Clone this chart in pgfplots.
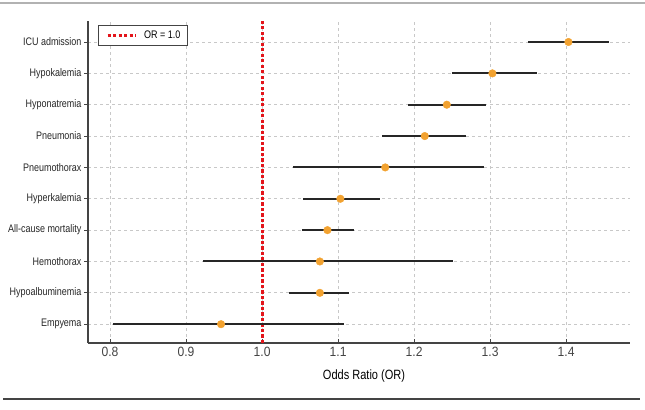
\documentclass[border=0pt]{standalone}
\usepackage{pgfplots}
\pgfplotsset{compat=1.18}
\usepackage{pgfplotstable}
\usepackage{fontspec}
\setmainfont[FakeStretch=0.82]{Liberation Sans}
\newfontfamily\tickfont[FakeStretch=0.9]{Liberation Sans}

\definecolor{ptorange}{HTML}{F2A230}
\definecolor{refred}{HTML}{E3151B}
\definecolor{gridgray}{HTML}{C8C8C8}
\definecolor{axgray}{HTML}{444444}

\pgfplotsset{longline/.style={legend image code/.code={%
    \path (-3bp,0bp) (33bp,0bp);
    \draw[##1] (0bp,0bp) -- (28bp,0bp);}}}

% odds ratios with 95% CI, index 0 = bottom row
\pgfplotstableread{
idx or    lo    hi
0   0.946 0.804 1.108
1   1.076 1.036 1.114
2   1.076 0.922 1.251
3   1.086 1.053 1.121
4   1.103 1.054 1.155
5   1.162 1.041 1.292
6   1.214 1.158 1.268
7   1.243 1.192 1.295
8   1.303 1.250 1.361
9   1.403 1.350 1.456
}\ortable

\begin{document}
\begin{tikzpicture}[x=1bp,y=1bp]
\path[use as bounding box] (0,0) rectangle (645,409);
\draw[gray!60, line width=1.2bp] (0,406) -- (645,406);
\draw[axgray, line width=1.2bp] (3,10) -- (640,10);
\begin{axis}[
    at={(88bp,66bp)}, anchor=south west,
    scale only axis, width=542bp, height=322bp,
    xmin=0.771, xmax=1.484,
    ymin=-0.6, ymax=9.67,
    axis x line*=bottom, axis y line*=left,
    axis line style={axgray, line width=1.1bp, -},
    xtick={0.8,0.9,1.0,1.1,1.2,1.3,1.4},
    xticklabels={0.8,0.9,1.0,1.1,1.2,1.3,1.4},
    ytick={0,...,9},
    yticklabels={Empyema,Hypoalbuminemia,Hemothorax,All-cause mortality,Hyperkalemia,Pneumothorax,Pneumonia,Hyponatremia,Hypokalemia,ICU admission},
    tick align=inside,
    major tick length=4bp,
    tick style={axgray, line width=0.9bp},
    y tick style={xshift=-4bp},
    grid=major,
    major grid style={gridgray, dash pattern=on 3bp off 3bp, line width=0.8bp},
    xticklabel style={font=\tickfont\fontsize{13.5}{13.5}\selectfont, text=axgray, yshift=-1bp},
    yticklabel style={font=\fontsize{11}{11}\selectfont, text=black!85, xshift=-3bp},
    /pgf/number format/assume math mode=true,
    xlabel={Odds Ratio (OR)},
    xlabel style={font=\fontsize{13.5}{13.5}\selectfont, yshift=-6bp, xshift=5bp},
    legend style={at={(0.018,0.988)}, anchor=north west, draw=axgray,
        line width=0.9bp, fill=white, font=\fontsize{11}{11}\selectfont,
        inner xsep=5bp, inner ysep=3.5bp},
    legend cell align=left,
]
\addplot[refred, line width=3bp, dash pattern=on 3.2bp off 2.3bp, longline]
    coordinates {(1.0,-0.6) (1.0,9.67)};
\addlegendentry{OR = 1.0}
\addplot[draw=none, mark=none, forget plot,
    error bars/.cd, x dir=both, x explicit, error mark=none,
    error bar style={black!85, line width=2bp, solid}]
    table[x=or, y=idx,
          x error plus expr=\thisrow{hi}-\thisrow{or},
          x error minus expr=\thisrow{or}-\thisrow{lo}] {\ortable};
\addplot[ptorange, only marks, mark=*, mark size=3.8bp, forget plot,
    mark options={fill=ptorange, draw=none}]
    table[x=or, y=idx] {\ortable};
\end{axis}
\end{tikzpicture}
\end{document}
